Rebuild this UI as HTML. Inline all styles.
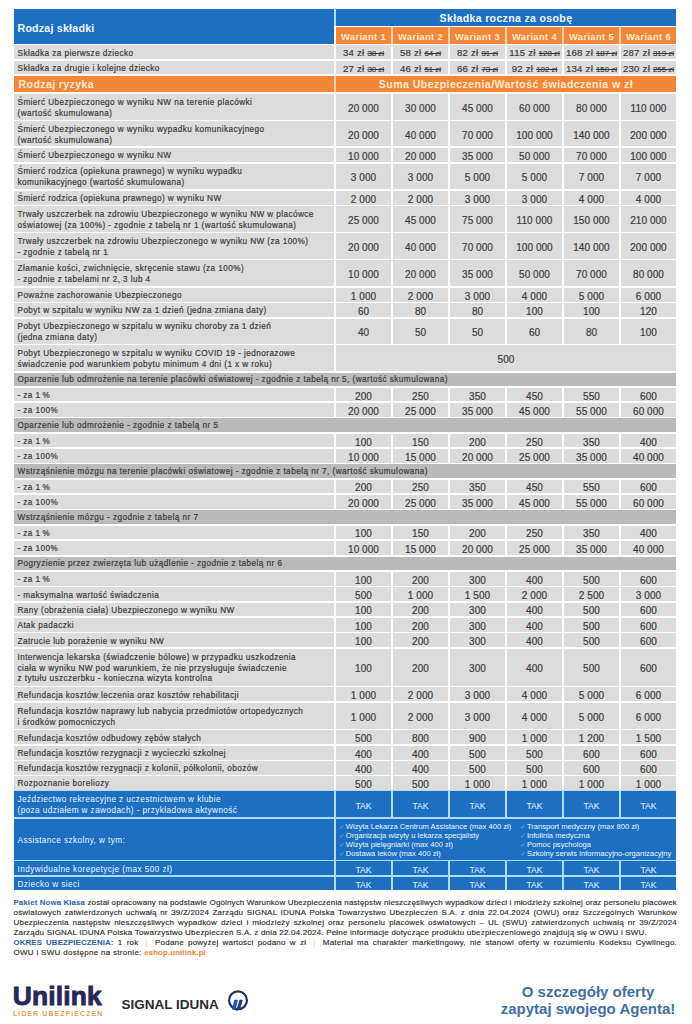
<!DOCTYPE html>
<html lang="pl"><head><meta charset="utf-8"><title>Pakiet Nowa Klasa</title>
<style>
*{margin:0;padding:0;box-sizing:border-box}
html,body{width:692px;height:1024px;overflow:hidden;background:#ffffff}
body{position:relative;font-family:"Liberation Sans", "DejaVu Sans", sans-serif;color:#3c3c3c}
.c{position:absolute;display:flex;align-items:center;overflow:visible;white-space:nowrap}
.c span{display:block;position:relative}
.lab,.val,.price{-webkit-text-stroke:0.2px #3c3c3c}
.blab,.bval{-webkit-text-stroke:0}
.lab{padding-left:3.5px;font-size:8.2px;line-height:10.7px;letter-spacing:0.42px}
.lab span{top:1.8px}
.blab{color:#eef6ff}
.val{justify-content:center;font-size:10px;letter-spacing:0.05px}
.val span{top:1.5px}
.sec span{top:0.8px}
.sec{letter-spacing:0.45px}
.bval{color:#eef6ff;font-size:8.6px;letter-spacing:0}
.hdr{color:#f4faff;font-weight:bold;font-size:10.6px;letter-spacing:0.24px;padding-left:3.5px}
.hdr span{top:1.4px}
.hdr2{color:#f4faff;font-weight:bold;font-size:10.6px;letter-spacing:0.32px;justify-content:center}
.hdr2 span{top:0.5px}
.var{color:#fdebcc;font-weight:bold;font-size:9.4px;letter-spacing:0.35px;justify-content:center}
.var span{top:0.6px}
.ohdr{color:#fdebcc;font-weight:bold;font-size:10.6px;letter-spacing:0.38px;padding-left:4.5px}
.ohdr span{top:-0.6px}
.ohdr2{color:#fdebcc;font-weight:bold;font-size:10.6px;letter-spacing:0.42px;justify-content:center}
.ohdr2 span{top:-0.6px}
.price{justify-content:center;font-size:9.6px;letter-spacing:0.25px}
.price span{top:0.6px}
.price s{font-size:7.9px;letter-spacing:0}
.assist{color:#eef6ff;font-size:7.6px;letter-spacing:0;line-height:9px;align-items:center;padding-left:4px}
.assist .col{position:absolute;top:3.3px}
.assist .col div{position:relative}
.assist i{font-style:normal;color:#7fb4e4;position:absolute;left:-6.6px;top:0;font-size:6.4px}
.foot{position:absolute;left:13.5px;width:663.5px;font-size:8px;letter-spacing:0.2px;line-height:10.05px;color:#2e2e2e;-webkit-text-stroke:0.15px #2e2e2e}
.foot div{white-space:nowrap;height:10.05px}
.foot .j{text-align:justify;text-align-last:justify;white-space:normal}
.foot b{font-size:7.8px;letter-spacing:0.15px}
.foot b.bl{color:#3566a8;-webkit-text-stroke:0.1px #3566a8}
.foot b.or{color:#f0883e;-webkit-text-stroke:0.1px #f0883e}
.sep{color:#f5c49a;padding:0 3px;-webkit-text-stroke:0}
</style></head>
<body>
<div class="c" style="left:14.00px;top:789.70px;width:662.20px;height:100.70px;background:#b2dbf7"></div><div class="c" style="left:335.80px;top:27.40px;width:340.40px;height:16.20px;background:#fbd3b0"></div><div class="c" style="left:14.00px;top:76.10px;width:662.20px;height:16.20px;background:#fbd3b0"></div><div class="c" style="left:14.00px;top:9.40px;width:662.20px;height:16.40px;background:#b2dbf7"></div>
<div class="c lab" style="left:14.00px;top:93.90px;width:320.20px;height:25.90px;background:#dcdcdc;"><span>Śmierć Ubezpieczonego w wyniku NW na terenie placówki<br>(wartość skumulowana)</span></div><div class="c val" style="left:335.80px;top:93.90px;width:55.40px;height:25.90px;background:#dcdcdc;"><span>20 000</span></div><div class="c val" style="left:392.80px;top:93.90px;width:55.40px;height:25.90px;background:#dcdcdc;"><span>30 000</span></div><div class="c val" style="left:449.80px;top:93.90px;width:55.40px;height:25.90px;background:#dcdcdc;"><span>45 000</span></div><div class="c val" style="left:506.80px;top:93.90px;width:55.40px;height:25.90px;background:#dcdcdc;"><span>60 000</span></div><div class="c val" style="left:563.80px;top:93.90px;width:55.40px;height:25.90px;background:#dcdcdc;"><span>80 000</span></div><div class="c val" style="left:620.80px;top:93.90px;width:55.40px;height:25.90px;background:#dcdcdc;"><span>110 000</span></div><div class="c lab" style="left:14.00px;top:121.40px;width:320.20px;height:25.10px;background:#dcdcdc;"><span>Śmierć Ubezpieczonego w wyniku wypadku komunikacyjnego<br>(wartość skumulowana)</span></div><div class="c val" style="left:335.80px;top:121.40px;width:55.40px;height:25.10px;background:#dcdcdc;"><span>20 000</span></div><div class="c val" style="left:392.80px;top:121.40px;width:55.40px;height:25.10px;background:#dcdcdc;"><span>40 000</span></div><div class="c val" style="left:449.80px;top:121.40px;width:55.40px;height:25.10px;background:#dcdcdc;"><span>70 000</span></div><div class="c val" style="left:506.80px;top:121.40px;width:55.40px;height:25.10px;background:#dcdcdc;"><span>100 000</span></div><div class="c val" style="left:563.80px;top:121.40px;width:55.40px;height:25.10px;background:#dcdcdc;"><span>140 000</span></div><div class="c val" style="left:620.80px;top:121.40px;width:55.40px;height:25.10px;background:#dcdcdc;"><span>200 000</span></div><div class="c lab" style="left:14.00px;top:148.10px;width:320.20px;height:13.90px;background:#dcdcdc;"><span>Śmierć Ubezpieczonego w wyniku NW</span></div><div class="c val" style="left:335.80px;top:148.10px;width:55.40px;height:13.90px;background:#dcdcdc;"><span>10 000</span></div><div class="c val" style="left:392.80px;top:148.10px;width:55.40px;height:13.90px;background:#dcdcdc;"><span>20 000</span></div><div class="c val" style="left:449.80px;top:148.10px;width:55.40px;height:13.90px;background:#dcdcdc;"><span>35 000</span></div><div class="c val" style="left:506.80px;top:148.10px;width:55.40px;height:13.90px;background:#dcdcdc;"><span>50 000</span></div><div class="c val" style="left:563.80px;top:148.10px;width:55.40px;height:13.90px;background:#dcdcdc;"><span>70 000</span></div><div class="c val" style="left:620.80px;top:148.10px;width:55.40px;height:13.90px;background:#dcdcdc;"><span>100 000</span></div><div class="c lab" style="left:14.00px;top:163.60px;width:320.20px;height:25.60px;background:#dcdcdc;"><span>Śmierć rodzica (opiekuna prawnego) w wyniku wypadku<br>komunikacyjnego (wartość skumulowana)</span></div><div class="c val" style="left:335.80px;top:163.60px;width:55.40px;height:25.60px;background:#dcdcdc;"><span>3 000</span></div><div class="c val" style="left:392.80px;top:163.60px;width:55.40px;height:25.60px;background:#dcdcdc;"><span>3 000</span></div><div class="c val" style="left:449.80px;top:163.60px;width:55.40px;height:25.60px;background:#dcdcdc;"><span>5 000</span></div><div class="c val" style="left:506.80px;top:163.60px;width:55.40px;height:25.60px;background:#dcdcdc;"><span>5 000</span></div><div class="c val" style="left:563.80px;top:163.60px;width:55.40px;height:25.60px;background:#dcdcdc;"><span>7 000</span></div><div class="c val" style="left:620.80px;top:163.60px;width:55.40px;height:25.60px;background:#dcdcdc;"><span>7 000</span></div><div class="c lab" style="left:14.00px;top:190.80px;width:320.20px;height:13.80px;background:#dcdcdc;"><span>Śmierć rodzica (opiekuna prawnego) w wyniku NW</span></div><div class="c val" style="left:335.80px;top:190.80px;width:55.40px;height:13.80px;background:#dcdcdc;"><span>2 000</span></div><div class="c val" style="left:392.80px;top:190.80px;width:55.40px;height:13.80px;background:#dcdcdc;"><span>2 000</span></div><div class="c val" style="left:449.80px;top:190.80px;width:55.40px;height:13.80px;background:#dcdcdc;"><span>3 000</span></div><div class="c val" style="left:506.80px;top:190.80px;width:55.40px;height:13.80px;background:#dcdcdc;"><span>3 000</span></div><div class="c val" style="left:563.80px;top:190.80px;width:55.40px;height:13.80px;background:#dcdcdc;"><span>4 000</span></div><div class="c val" style="left:620.80px;top:190.80px;width:55.40px;height:13.80px;background:#dcdcdc;"><span>4 000</span></div><div class="c lab" style="left:14.00px;top:206.20px;width:320.20px;height:25.50px;background:#dcdcdc;"><span>Trwały uszczerbek na zdrowiu Ubezpieczonego w wyniku NW w placówce<br>oświatowej (za 100%) - zgodnie z tabelą nr 1 (wartość skumulowana)</span></div><div class="c val" style="left:335.80px;top:206.20px;width:55.40px;height:25.50px;background:#dcdcdc;"><span>25 000</span></div><div class="c val" style="left:392.80px;top:206.20px;width:55.40px;height:25.50px;background:#dcdcdc;"><span>45 000</span></div><div class="c val" style="left:449.80px;top:206.20px;width:55.40px;height:25.50px;background:#dcdcdc;"><span>75 000</span></div><div class="c val" style="left:506.80px;top:206.20px;width:55.40px;height:25.50px;background:#dcdcdc;"><span>110 000</span></div><div class="c val" style="left:563.80px;top:206.20px;width:55.40px;height:25.50px;background:#dcdcdc;"><span>150 000</span></div><div class="c val" style="left:620.80px;top:206.20px;width:55.40px;height:25.50px;background:#dcdcdc;"><span>210 000</span></div><div class="c lab" style="left:14.00px;top:233.30px;width:320.20px;height:25.40px;background:#dcdcdc;"><span>Trwały uszczerbek na zdrowiu Ubezpieczonego w wyniku NW (za 100%)<br>- zgodnie z tabelą nr 1</span></div><div class="c val" style="left:335.80px;top:233.30px;width:55.40px;height:25.40px;background:#dcdcdc;"><span>20 000</span></div><div class="c val" style="left:392.80px;top:233.30px;width:55.40px;height:25.40px;background:#dcdcdc;"><span>40 000</span></div><div class="c val" style="left:449.80px;top:233.30px;width:55.40px;height:25.40px;background:#dcdcdc;"><span>70 000</span></div><div class="c val" style="left:506.80px;top:233.30px;width:55.40px;height:25.40px;background:#dcdcdc;"><span>100 000</span></div><div class="c val" style="left:563.80px;top:233.30px;width:55.40px;height:25.40px;background:#dcdcdc;"><span>140 000</span></div><div class="c val" style="left:620.80px;top:233.30px;width:55.40px;height:25.40px;background:#dcdcdc;"><span>200 000</span></div><div class="c lab" style="left:14.00px;top:260.30px;width:320.20px;height:25.60px;background:#dcdcdc;"><span>Złamanie kości, zwichnięcie, skręcenie stawu (za 100%)<br>- zgodnie z tabelami nr 2, 3 lub 4</span></div><div class="c val" style="left:335.80px;top:260.30px;width:55.40px;height:25.60px;background:#dcdcdc;"><span>10 000</span></div><div class="c val" style="left:392.80px;top:260.30px;width:55.40px;height:25.60px;background:#dcdcdc;"><span>20 000</span></div><div class="c val" style="left:449.80px;top:260.30px;width:55.40px;height:25.60px;background:#dcdcdc;"><span>35 000</span></div><div class="c val" style="left:506.80px;top:260.30px;width:55.40px;height:25.60px;background:#dcdcdc;"><span>50 000</span></div><div class="c val" style="left:563.80px;top:260.30px;width:55.40px;height:25.60px;background:#dcdcdc;"><span>70 000</span></div><div class="c val" style="left:620.80px;top:260.30px;width:55.40px;height:25.60px;background:#dcdcdc;"><span>80 000</span></div><div class="c lab" style="left:14.00px;top:287.50px;width:320.20px;height:14.00px;background:#dcdcdc;"><span>Poważne zachorowanie Ubezpieczonego</span></div><div class="c val" style="left:335.80px;top:287.50px;width:55.40px;height:14.00px;background:#dcdcdc;"><span>1 000</span></div><div class="c val" style="left:392.80px;top:287.50px;width:55.40px;height:14.00px;background:#dcdcdc;"><span>2 000</span></div><div class="c val" style="left:449.80px;top:287.50px;width:55.40px;height:14.00px;background:#dcdcdc;"><span>3 000</span></div><div class="c val" style="left:506.80px;top:287.50px;width:55.40px;height:14.00px;background:#dcdcdc;"><span>4 000</span></div><div class="c val" style="left:563.80px;top:287.50px;width:55.40px;height:14.00px;background:#dcdcdc;"><span>5 000</span></div><div class="c val" style="left:620.80px;top:287.50px;width:55.40px;height:14.00px;background:#dcdcdc;"><span>6 000</span></div><div class="c lab" style="left:14.00px;top:303.10px;width:320.20px;height:13.90px;background:#dcdcdc;"><span>Pobyt w szpitalu w wyniku NW za 1 dzień (jedna zmiana daty)</span></div><div class="c val" style="left:335.80px;top:303.10px;width:55.40px;height:13.90px;background:#dcdcdc;"><span>60</span></div><div class="c val" style="left:392.80px;top:303.10px;width:55.40px;height:13.90px;background:#dcdcdc;"><span>80</span></div><div class="c val" style="left:449.80px;top:303.10px;width:55.40px;height:13.90px;background:#dcdcdc;"><span>80</span></div><div class="c val" style="left:506.80px;top:303.10px;width:55.40px;height:13.90px;background:#dcdcdc;"><span>100</span></div><div class="c val" style="left:563.80px;top:303.10px;width:55.40px;height:13.90px;background:#dcdcdc;"><span>100</span></div><div class="c val" style="left:620.80px;top:303.10px;width:55.40px;height:13.90px;background:#dcdcdc;"><span>120</span></div><div class="c lab" style="left:14.00px;top:318.60px;width:320.20px;height:25.10px;background:#dcdcdc;"><span>Pobyt Ubezpieczonego w szpitalu w wyniku choroby za 1 dzień<br>(jedna zmiana daty)</span></div><div class="c val" style="left:335.80px;top:318.60px;width:55.40px;height:25.10px;background:#dcdcdc;"><span>40</span></div><div class="c val" style="left:392.80px;top:318.60px;width:55.40px;height:25.10px;background:#dcdcdc;"><span>50</span></div><div class="c val" style="left:449.80px;top:318.60px;width:55.40px;height:25.10px;background:#dcdcdc;"><span>50</span></div><div class="c val" style="left:506.80px;top:318.60px;width:55.40px;height:25.10px;background:#dcdcdc;"><span>60</span></div><div class="c val" style="left:563.80px;top:318.60px;width:55.40px;height:25.10px;background:#dcdcdc;"><span>80</span></div><div class="c val" style="left:620.80px;top:318.60px;width:55.40px;height:25.10px;background:#dcdcdc;"><span>100</span></div><div class="c lab" style="left:14.00px;top:345.30px;width:320.20px;height:25.80px;background:#dcdcdc;"><span>Pobyt Ubezpieczonego w szpitalu w wyniku COVID 19 - jednorazowe<br>świadczenie pod warunkiem pobytu minimum 4 dni (1 x w roku)</span></div><div class="c val" style="left:335.80px;top:345.30px;width:340.40px;height:25.80px;background:#dcdcdc;"><span>500</span></div><div class="c lab sec" style="left:14.00px;top:372.70px;width:662.20px;height:13.30px;background:#bababa;"><span>Oparzenie lub odmrożenie na terenie placówki oświatowej - zgodnie z tabelą nr 5, (wartość skumulowana)</span></div><div class="c lab" style="left:14.00px;top:387.60px;width:320.20px;height:13.90px;background:#dcdcdc;"><span>- za 1&thinsp;%</span></div><div class="c val" style="left:335.80px;top:387.60px;width:55.40px;height:13.90px;background:#dcdcdc;"><span>200</span></div><div class="c val" style="left:392.80px;top:387.60px;width:55.40px;height:13.90px;background:#dcdcdc;"><span>250</span></div><div class="c val" style="left:449.80px;top:387.60px;width:55.40px;height:13.90px;background:#dcdcdc;"><span>350</span></div><div class="c val" style="left:506.80px;top:387.60px;width:55.40px;height:13.90px;background:#dcdcdc;"><span>450</span></div><div class="c val" style="left:563.80px;top:387.60px;width:55.40px;height:13.90px;background:#dcdcdc;"><span>550</span></div><div class="c val" style="left:620.80px;top:387.60px;width:55.40px;height:13.90px;background:#dcdcdc;"><span>600</span></div><div class="c lab" style="left:14.00px;top:403.10px;width:320.20px;height:13.50px;background:#dcdcdc;"><span>- za 100%</span></div><div class="c val" style="left:335.80px;top:403.10px;width:55.40px;height:13.50px;background:#dcdcdc;"><span>20 000</span></div><div class="c val" style="left:392.80px;top:403.10px;width:55.40px;height:13.50px;background:#dcdcdc;"><span>25 000</span></div><div class="c val" style="left:449.80px;top:403.10px;width:55.40px;height:13.50px;background:#dcdcdc;"><span>35 000</span></div><div class="c val" style="left:506.80px;top:403.10px;width:55.40px;height:13.50px;background:#dcdcdc;"><span>45 000</span></div><div class="c val" style="left:563.80px;top:403.10px;width:55.40px;height:13.50px;background:#dcdcdc;"><span>55 000</span></div><div class="c val" style="left:620.80px;top:403.10px;width:55.40px;height:13.50px;background:#dcdcdc;"><span>60 000</span></div><div class="c lab sec" style="left:14.00px;top:418.20px;width:662.20px;height:13.90px;background:#bababa;"><span>Oparzenie lub odmrożenie - zgodnie z tabelą nr 5</span></div><div class="c lab" style="left:14.00px;top:433.70px;width:320.20px;height:13.70px;background:#dcdcdc;"><span>- za 1&thinsp;%</span></div><div class="c val" style="left:335.80px;top:433.70px;width:55.40px;height:13.70px;background:#dcdcdc;"><span>100</span></div><div class="c val" style="left:392.80px;top:433.70px;width:55.40px;height:13.70px;background:#dcdcdc;"><span>150</span></div><div class="c val" style="left:449.80px;top:433.70px;width:55.40px;height:13.70px;background:#dcdcdc;"><span>200</span></div><div class="c val" style="left:506.80px;top:433.70px;width:55.40px;height:13.70px;background:#dcdcdc;"><span>250</span></div><div class="c val" style="left:563.80px;top:433.70px;width:55.40px;height:13.70px;background:#dcdcdc;"><span>350</span></div><div class="c val" style="left:620.80px;top:433.70px;width:55.40px;height:13.70px;background:#dcdcdc;"><span>400</span></div><div class="c lab" style="left:14.00px;top:449.00px;width:320.20px;height:13.70px;background:#dcdcdc;"><span>- za 100%</span></div><div class="c val" style="left:335.80px;top:449.00px;width:55.40px;height:13.70px;background:#dcdcdc;"><span>10 000</span></div><div class="c val" style="left:392.80px;top:449.00px;width:55.40px;height:13.70px;background:#dcdcdc;"><span>15 000</span></div><div class="c val" style="left:449.80px;top:449.00px;width:55.40px;height:13.70px;background:#dcdcdc;"><span>20 000</span></div><div class="c val" style="left:506.80px;top:449.00px;width:55.40px;height:13.70px;background:#dcdcdc;"><span>25 000</span></div><div class="c val" style="left:563.80px;top:449.00px;width:55.40px;height:13.70px;background:#dcdcdc;"><span>35 000</span></div><div class="c val" style="left:620.80px;top:449.00px;width:55.40px;height:13.70px;background:#dcdcdc;"><span>40 000</span></div><div class="c lab sec" style="left:14.00px;top:464.30px;width:662.20px;height:13.70px;background:#bababa;"><span>Wstrząśnienie mózgu na terenie placówki oświatowej - zgodnie z tabelą nr 7, (wartość skumulowana)</span></div><div class="c lab" style="left:14.00px;top:479.60px;width:320.20px;height:13.80px;background:#dcdcdc;"><span>- za 1&thinsp;%</span></div><div class="c val" style="left:335.80px;top:479.60px;width:55.40px;height:13.80px;background:#dcdcdc;"><span>200</span></div><div class="c val" style="left:392.80px;top:479.60px;width:55.40px;height:13.80px;background:#dcdcdc;"><span>250</span></div><div class="c val" style="left:449.80px;top:479.60px;width:55.40px;height:13.80px;background:#dcdcdc;"><span>350</span></div><div class="c val" style="left:506.80px;top:479.60px;width:55.40px;height:13.80px;background:#dcdcdc;"><span>450</span></div><div class="c val" style="left:563.80px;top:479.60px;width:55.40px;height:13.80px;background:#dcdcdc;"><span>550</span></div><div class="c val" style="left:620.80px;top:479.60px;width:55.40px;height:13.80px;background:#dcdcdc;"><span>600</span></div><div class="c lab" style="left:14.00px;top:495.00px;width:320.20px;height:13.80px;background:#dcdcdc;"><span>- za 100%</span></div><div class="c val" style="left:335.80px;top:495.00px;width:55.40px;height:13.80px;background:#dcdcdc;"><span>20 000</span></div><div class="c val" style="left:392.80px;top:495.00px;width:55.40px;height:13.80px;background:#dcdcdc;"><span>25 000</span></div><div class="c val" style="left:449.80px;top:495.00px;width:55.40px;height:13.80px;background:#dcdcdc;"><span>35 000</span></div><div class="c val" style="left:506.80px;top:495.00px;width:55.40px;height:13.80px;background:#dcdcdc;"><span>45 000</span></div><div class="c val" style="left:563.80px;top:495.00px;width:55.40px;height:13.80px;background:#dcdcdc;"><span>55 000</span></div><div class="c val" style="left:620.80px;top:495.00px;width:55.40px;height:13.80px;background:#dcdcdc;"><span>60 000</span></div><div class="c lab sec" style="left:14.00px;top:510.40px;width:662.20px;height:13.60px;background:#bababa;"><span>Wstrząśnienie mózgu - zgodnie z tabelą nr 7</span></div><div class="c lab" style="left:14.00px;top:525.60px;width:320.20px;height:13.80px;background:#dcdcdc;"><span>- za 1&thinsp;%</span></div><div class="c val" style="left:335.80px;top:525.60px;width:55.40px;height:13.80px;background:#dcdcdc;"><span>100</span></div><div class="c val" style="left:392.80px;top:525.60px;width:55.40px;height:13.80px;background:#dcdcdc;"><span>150</span></div><div class="c val" style="left:449.80px;top:525.60px;width:55.40px;height:13.80px;background:#dcdcdc;"><span>200</span></div><div class="c val" style="left:506.80px;top:525.60px;width:55.40px;height:13.80px;background:#dcdcdc;"><span>250</span></div><div class="c val" style="left:563.80px;top:525.60px;width:55.40px;height:13.80px;background:#dcdcdc;"><span>350</span></div><div class="c val" style="left:620.80px;top:525.60px;width:55.40px;height:13.80px;background:#dcdcdc;"><span>400</span></div><div class="c lab" style="left:14.00px;top:541.00px;width:320.20px;height:13.90px;background:#dcdcdc;"><span>- za 100%</span></div><div class="c val" style="left:335.80px;top:541.00px;width:55.40px;height:13.90px;background:#dcdcdc;"><span>10 000</span></div><div class="c val" style="left:392.80px;top:541.00px;width:55.40px;height:13.90px;background:#dcdcdc;"><span>15 000</span></div><div class="c val" style="left:449.80px;top:541.00px;width:55.40px;height:13.90px;background:#dcdcdc;"><span>20 000</span></div><div class="c val" style="left:506.80px;top:541.00px;width:55.40px;height:13.90px;background:#dcdcdc;"><span>25 000</span></div><div class="c val" style="left:563.80px;top:541.00px;width:55.40px;height:13.90px;background:#dcdcdc;"><span>35 000</span></div><div class="c val" style="left:620.80px;top:541.00px;width:55.40px;height:13.90px;background:#dcdcdc;"><span>40 000</span></div><div class="c lab sec" style="left:14.00px;top:556.50px;width:662.20px;height:13.70px;background:#bababa;"><span>Pogryzienie przez zwierzęta lub użądlenie - zgodnie z tabelą nr 6</span></div><div class="c lab" style="left:14.00px;top:571.80px;width:320.20px;height:13.80px;background:#dcdcdc;"><span>- za 1&thinsp;%</span></div><div class="c val" style="left:335.80px;top:571.80px;width:55.40px;height:13.80px;background:#dcdcdc;"><span>100</span></div><div class="c val" style="left:392.80px;top:571.80px;width:55.40px;height:13.80px;background:#dcdcdc;"><span>200</span></div><div class="c val" style="left:449.80px;top:571.80px;width:55.40px;height:13.80px;background:#dcdcdc;"><span>300</span></div><div class="c val" style="left:506.80px;top:571.80px;width:55.40px;height:13.80px;background:#dcdcdc;"><span>400</span></div><div class="c val" style="left:563.80px;top:571.80px;width:55.40px;height:13.80px;background:#dcdcdc;"><span>500</span></div><div class="c val" style="left:620.80px;top:571.80px;width:55.40px;height:13.80px;background:#dcdcdc;"><span>600</span></div><div class="c lab" style="left:14.00px;top:587.20px;width:320.20px;height:13.80px;background:#dcdcdc;"><span>- maksymalna wartość świadczenia</span></div><div class="c val" style="left:335.80px;top:587.20px;width:55.40px;height:13.80px;background:#dcdcdc;"><span>500</span></div><div class="c val" style="left:392.80px;top:587.20px;width:55.40px;height:13.80px;background:#dcdcdc;"><span>1 000</span></div><div class="c val" style="left:449.80px;top:587.20px;width:55.40px;height:13.80px;background:#dcdcdc;"><span>1 500</span></div><div class="c val" style="left:506.80px;top:587.20px;width:55.40px;height:13.80px;background:#dcdcdc;"><span>2 000</span></div><div class="c val" style="left:563.80px;top:587.20px;width:55.40px;height:13.80px;background:#dcdcdc;"><span>2 500</span></div><div class="c val" style="left:620.80px;top:587.20px;width:55.40px;height:13.80px;background:#dcdcdc;"><span>3 000</span></div><div class="c lab" style="left:14.00px;top:602.60px;width:320.20px;height:13.80px;background:#dcdcdc;"><span>Rany (obrażenia ciała) Ubezpieczonego w wyniku NW</span></div><div class="c val" style="left:335.80px;top:602.60px;width:55.40px;height:13.80px;background:#dcdcdc;"><span>100</span></div><div class="c val" style="left:392.80px;top:602.60px;width:55.40px;height:13.80px;background:#dcdcdc;"><span>200</span></div><div class="c val" style="left:449.80px;top:602.60px;width:55.40px;height:13.80px;background:#dcdcdc;"><span>300</span></div><div class="c val" style="left:506.80px;top:602.60px;width:55.40px;height:13.80px;background:#dcdcdc;"><span>400</span></div><div class="c val" style="left:563.80px;top:602.60px;width:55.40px;height:13.80px;background:#dcdcdc;"><span>500</span></div><div class="c val" style="left:620.80px;top:602.60px;width:55.40px;height:13.80px;background:#dcdcdc;"><span>600</span></div><div class="c lab" style="left:14.00px;top:618.00px;width:320.20px;height:13.80px;background:#dcdcdc;"><span>Atak padaczki</span></div><div class="c val" style="left:335.80px;top:618.00px;width:55.40px;height:13.80px;background:#dcdcdc;"><span>100</span></div><div class="c val" style="left:392.80px;top:618.00px;width:55.40px;height:13.80px;background:#dcdcdc;"><span>200</span></div><div class="c val" style="left:449.80px;top:618.00px;width:55.40px;height:13.80px;background:#dcdcdc;"><span>300</span></div><div class="c val" style="left:506.80px;top:618.00px;width:55.40px;height:13.80px;background:#dcdcdc;"><span>400</span></div><div class="c val" style="left:563.80px;top:618.00px;width:55.40px;height:13.80px;background:#dcdcdc;"><span>500</span></div><div class="c val" style="left:620.80px;top:618.00px;width:55.40px;height:13.80px;background:#dcdcdc;"><span>600</span></div><div class="c lab" style="left:14.00px;top:633.40px;width:320.20px;height:13.60px;background:#dcdcdc;"><span>Zatrucie lub porażenie w wyniku NW</span></div><div class="c val" style="left:335.80px;top:633.40px;width:55.40px;height:13.60px;background:#dcdcdc;"><span>100</span></div><div class="c val" style="left:392.80px;top:633.40px;width:55.40px;height:13.60px;background:#dcdcdc;"><span>200</span></div><div class="c val" style="left:449.80px;top:633.40px;width:55.40px;height:13.60px;background:#dcdcdc;"><span>300</span></div><div class="c val" style="left:506.80px;top:633.40px;width:55.40px;height:13.60px;background:#dcdcdc;"><span>400</span></div><div class="c val" style="left:563.80px;top:633.40px;width:55.40px;height:13.60px;background:#dcdcdc;"><span>500</span></div><div class="c val" style="left:620.80px;top:633.40px;width:55.40px;height:13.60px;background:#dcdcdc;"><span>600</span></div><div class="c lab" style="left:14.00px;top:648.60px;width:320.20px;height:37.10px;background:#dcdcdc;"><span>Interwencja lekarska (świadczenie bólowe) w przypadku uszkodzenia<br>ciała w wyniku NW pod warunkiem, że nie przysługuje świadczenie<br>z tytułu uszczerbku - konieczna wizyta kontrolna</span></div><div class="c val" style="left:335.80px;top:648.60px;width:55.40px;height:37.10px;background:#dcdcdc;"><span>100</span></div><div class="c val" style="left:392.80px;top:648.60px;width:55.40px;height:37.10px;background:#dcdcdc;"><span>200</span></div><div class="c val" style="left:449.80px;top:648.60px;width:55.40px;height:37.10px;background:#dcdcdc;"><span>300</span></div><div class="c val" style="left:506.80px;top:648.60px;width:55.40px;height:37.10px;background:#dcdcdc;"><span>400</span></div><div class="c val" style="left:563.80px;top:648.60px;width:55.40px;height:37.10px;background:#dcdcdc;"><span>500</span></div><div class="c val" style="left:620.80px;top:648.60px;width:55.40px;height:37.10px;background:#dcdcdc;"><span>600</span></div><div class="c lab" style="left:14.00px;top:687.30px;width:320.20px;height:13.90px;background:#dcdcdc;"><span>Refundacja kosztów leczenia oraz kosztów rehabilitacji</span></div><div class="c val" style="left:335.80px;top:687.30px;width:55.40px;height:13.90px;background:#dcdcdc;"><span>1 000</span></div><div class="c val" style="left:392.80px;top:687.30px;width:55.40px;height:13.90px;background:#dcdcdc;"><span>2 000</span></div><div class="c val" style="left:449.80px;top:687.30px;width:55.40px;height:13.90px;background:#dcdcdc;"><span>3 000</span></div><div class="c val" style="left:506.80px;top:687.30px;width:55.40px;height:13.90px;background:#dcdcdc;"><span>4 000</span></div><div class="c val" style="left:563.80px;top:687.30px;width:55.40px;height:13.90px;background:#dcdcdc;"><span>5 000</span></div><div class="c val" style="left:620.80px;top:687.30px;width:55.40px;height:13.90px;background:#dcdcdc;"><span>6 000</span></div><div class="c lab" style="left:14.00px;top:702.80px;width:320.20px;height:26.00px;background:#dcdcdc;"><span>Refundacja kosztów naprawy lub nabycia przedmiotów ortopedycznych<br>i środków pomocniczych</span></div><div class="c val" style="left:335.80px;top:702.80px;width:55.40px;height:26.00px;background:#dcdcdc;"><span>1 000</span></div><div class="c val" style="left:392.80px;top:702.80px;width:55.40px;height:26.00px;background:#dcdcdc;"><span>2 000</span></div><div class="c val" style="left:449.80px;top:702.80px;width:55.40px;height:26.00px;background:#dcdcdc;"><span>3 000</span></div><div class="c val" style="left:506.80px;top:702.80px;width:55.40px;height:26.00px;background:#dcdcdc;"><span>4 000</span></div><div class="c val" style="left:563.80px;top:702.80px;width:55.40px;height:26.00px;background:#dcdcdc;"><span>5 000</span></div><div class="c val" style="left:620.80px;top:702.80px;width:55.40px;height:26.00px;background:#dcdcdc;"><span>6 000</span></div><div class="c lab" style="left:14.00px;top:730.40px;width:320.20px;height:14.10px;background:#dcdcdc;"><span>Refundacja kosztów odbudowy zębów stałych</span></div><div class="c val" style="left:335.80px;top:730.40px;width:55.40px;height:14.10px;background:#dcdcdc;"><span>500</span></div><div class="c val" style="left:392.80px;top:730.40px;width:55.40px;height:14.10px;background:#dcdcdc;"><span>800</span></div><div class="c val" style="left:449.80px;top:730.40px;width:55.40px;height:14.10px;background:#dcdcdc;"><span>900</span></div><div class="c val" style="left:506.80px;top:730.40px;width:55.40px;height:14.10px;background:#dcdcdc;"><span>1 000</span></div><div class="c val" style="left:563.80px;top:730.40px;width:55.40px;height:14.10px;background:#dcdcdc;"><span>1 200</span></div><div class="c val" style="left:620.80px;top:730.40px;width:55.40px;height:14.10px;background:#dcdcdc;"><span>1 500</span></div><div class="c lab" style="left:14.00px;top:746.10px;width:320.20px;height:13.60px;background:#dcdcdc;"><span>Refundacja kosztów rezygnacji z wycieczki szkolnej</span></div><div class="c val" style="left:335.80px;top:746.10px;width:55.40px;height:13.60px;background:#dcdcdc;"><span>400</span></div><div class="c val" style="left:392.80px;top:746.10px;width:55.40px;height:13.60px;background:#dcdcdc;"><span>400</span></div><div class="c val" style="left:449.80px;top:746.10px;width:55.40px;height:13.60px;background:#dcdcdc;"><span>500</span></div><div class="c val" style="left:506.80px;top:746.10px;width:55.40px;height:13.60px;background:#dcdcdc;"><span>500</span></div><div class="c val" style="left:563.80px;top:746.10px;width:55.40px;height:13.60px;background:#dcdcdc;"><span>600</span></div><div class="c val" style="left:620.80px;top:746.10px;width:55.40px;height:13.60px;background:#dcdcdc;"><span>600</span></div><div class="c lab" style="left:14.00px;top:761.30px;width:320.20px;height:13.50px;background:#dcdcdc;"><span>Refundacja kosztów rezygnacji z kolonii, półkolonii, obozów</span></div><div class="c val" style="left:335.80px;top:761.30px;width:55.40px;height:13.50px;background:#dcdcdc;"><span>400</span></div><div class="c val" style="left:392.80px;top:761.30px;width:55.40px;height:13.50px;background:#dcdcdc;"><span>400</span></div><div class="c val" style="left:449.80px;top:761.30px;width:55.40px;height:13.50px;background:#dcdcdc;"><span>500</span></div><div class="c val" style="left:506.80px;top:761.30px;width:55.40px;height:13.50px;background:#dcdcdc;"><span>500</span></div><div class="c val" style="left:563.80px;top:761.30px;width:55.40px;height:13.50px;background:#dcdcdc;"><span>600</span></div><div class="c val" style="left:620.80px;top:761.30px;width:55.40px;height:13.50px;background:#dcdcdc;"><span>600</span></div><div class="c lab" style="left:14.00px;top:776.40px;width:320.20px;height:13.30px;background:#dcdcdc;"><span>Rozpoznanie boreliozy</span></div><div class="c val" style="left:335.80px;top:776.40px;width:55.40px;height:13.30px;background:#dcdcdc;"><span>500</span></div><div class="c val" style="left:392.80px;top:776.40px;width:55.40px;height:13.30px;background:#dcdcdc;"><span>500</span></div><div class="c val" style="left:449.80px;top:776.40px;width:55.40px;height:13.30px;background:#dcdcdc;"><span>1 000</span></div><div class="c val" style="left:506.80px;top:776.40px;width:55.40px;height:13.30px;background:#dcdcdc;"><span>1 000</span></div><div class="c val" style="left:563.80px;top:776.40px;width:55.40px;height:13.30px;background:#dcdcdc;"><span>1 000</span></div><div class="c val" style="left:620.80px;top:776.40px;width:55.40px;height:13.30px;background:#dcdcdc;"><span>1 000</span></div><div class="c lab blab" style="left:14.00px;top:791.30px;width:320.20px;height:25.90px;background:#1c6fc1;"><span>Jeździectwo rekreacyjne z uczestnictwem w klubie<br>(poza udziałem w zawodach) - przykładowa aktywność</span></div><div class="c val bval" style="left:335.80px;top:791.30px;width:55.40px;height:25.90px;background:#1c6fc1;"><span>TAK</span></div><div class="c val bval" style="left:392.80px;top:791.30px;width:55.40px;height:25.90px;background:#1c6fc1;"><span>TAK</span></div><div class="c val bval" style="left:449.80px;top:791.30px;width:55.40px;height:25.90px;background:#1c6fc1;"><span>TAK</span></div><div class="c val bval" style="left:506.80px;top:791.30px;width:55.40px;height:25.90px;background:#1c6fc1;"><span>TAK</span></div><div class="c val bval" style="left:563.80px;top:791.30px;width:55.40px;height:25.90px;background:#1c6fc1;"><span>TAK</span></div><div class="c val bval" style="left:620.80px;top:791.30px;width:55.40px;height:25.90px;background:#1c6fc1;"><span>TAK</span></div><div class="c lab blab" style="left:14.00px;top:818.80px;width:320.20px;height:41.00px;background:#1c6fc1;"><span>Assistance szkolny, w tym:</span></div><div class="c assist" style="left:335.80px;top:818.80px;width:340.40px;height:41.00px;background:#1c6fc1;"><div class="col" style="left:10px"><div><i>✓</i>Wizyta Lekarza Centrum Assistance (max 400 zł)</div><div><i>✓</i>Organizacja wizyty u lekarza specjalisty</div><div><i>✓</i>Wizyta pielęgniarki (max 400 zł)</div><div><i>✓</i>Dostawa leków (max 400 zł)</div></div><div class="col" style="left:191.1px"><div><i>✓</i>Transport medyczny (max 800 zł)</div><div><i>✓</i>Infolinia medyczna</div><div><i>✓</i>Pomoc psychologa</div><div><i>✓</i>Szkolny serwis informacyjno-organizacyjny</div></div></div><div class="c lab blab" style="left:14.00px;top:861.40px;width:320.20px;height:13.80px;background:#1c6fc1;"><span>Indywidualne korepetycje (max 500 zł)</span></div><div class="c val bval" style="left:335.80px;top:861.40px;width:55.40px;height:13.80px;background:#1c6fc1;"><span>TAK</span></div><div class="c val bval" style="left:392.80px;top:861.40px;width:55.40px;height:13.80px;background:#1c6fc1;"><span>TAK</span></div><div class="c val bval" style="left:449.80px;top:861.40px;width:55.40px;height:13.80px;background:#1c6fc1;"><span>TAK</span></div><div class="c val bval" style="left:506.80px;top:861.40px;width:55.40px;height:13.80px;background:#1c6fc1;"><span>TAK</span></div><div class="c val bval" style="left:563.80px;top:861.40px;width:55.40px;height:13.80px;background:#1c6fc1;"><span>TAK</span></div><div class="c val bval" style="left:620.80px;top:861.40px;width:55.40px;height:13.80px;background:#1c6fc1;"><span>TAK</span></div><div class="c lab blab" style="left:14.00px;top:876.80px;width:320.20px;height:13.60px;background:#1c6fc1;"><span>Dziecko w sieci</span></div><div class="c val bval" style="left:335.80px;top:876.80px;width:55.40px;height:13.60px;background:#1c6fc1;"><span>TAK</span></div><div class="c val bval" style="left:392.80px;top:876.80px;width:55.40px;height:13.60px;background:#1c6fc1;"><span>TAK</span></div><div class="c val bval" style="left:449.80px;top:876.80px;width:55.40px;height:13.60px;background:#1c6fc1;"><span>TAK</span></div><div class="c val bval" style="left:506.80px;top:876.80px;width:55.40px;height:13.60px;background:#1c6fc1;"><span>TAK</span></div><div class="c val bval" style="left:563.80px;top:876.80px;width:55.40px;height:13.60px;background:#1c6fc1;"><span>TAK</span></div><div class="c val bval" style="left:620.80px;top:876.80px;width:55.40px;height:13.60px;background:#1c6fc1;"><span>TAK</span></div><div class="c hdr" style="left:14.00px;top:9.40px;width:320.20px;height:34.20px;background:#1c6fc1;"><span>Rodzaj składki</span></div><div class="c hdr2" style="left:335.80px;top:9.40px;width:340.40px;height:16.40px;background:#1c6fc1;"><span>Składka roczna za osobę</span></div><div class="c var" style="left:335.80px;top:27.40px;width:55.40px;height:16.20px;background:#f2873a;"><span>Wariant 1</span></div><div class="c var" style="left:392.80px;top:27.40px;width:55.40px;height:16.20px;background:#f2873a;"><span>Wariant 2</span></div><div class="c var" style="left:449.80px;top:27.40px;width:55.40px;height:16.20px;background:#f2873a;"><span>Wariant 3</span></div><div class="c var" style="left:506.80px;top:27.40px;width:55.40px;height:16.20px;background:#f2873a;"><span>Wariant 4</span></div><div class="c var" style="left:563.80px;top:27.40px;width:55.40px;height:16.20px;background:#f2873a;"><span>Wariant 5</span></div><div class="c var" style="left:620.80px;top:27.40px;width:55.40px;height:16.20px;background:#f2873a;"><span>Wariant 6</span></div><div class="c lab" style="left:14.00px;top:45.20px;width:320.20px;height:14.00px;background:#dcdcdc;"><span>Składka za pierwsze dziecko</span></div><div class="c lab" style="left:14.00px;top:60.80px;width:320.20px;height:13.70px;background:#dcdcdc;"><span>Składka za drugie i kolejne dziecko</span></div><div class="c price" style="left:335.80px;top:45.20px;width:55.40px;height:14.00px;background:#dcdcdc;"><span>34 zł <s>38 zł</s></span></div><div class="c price" style="left:392.80px;top:45.20px;width:55.40px;height:14.00px;background:#dcdcdc;"><span>58 zł <s>64 zł</s></span></div><div class="c price" style="left:449.80px;top:45.20px;width:55.40px;height:14.00px;background:#dcdcdc;"><span>82 zł <s>91 zł</s></span></div><div class="c price" style="left:506.80px;top:45.20px;width:55.40px;height:14.00px;background:#dcdcdc;"><span>115 zł <s>128 zł</s></span></div><div class="c price" style="left:563.80px;top:45.20px;width:55.40px;height:14.00px;background:#dcdcdc;"><span>168 zł <s>187 zł</s></span></div><div class="c price" style="left:620.80px;top:45.20px;width:55.40px;height:14.00px;background:#dcdcdc;"><span>287 zł <s>319 zł</s></span></div><div class="c price" style="left:335.80px;top:60.80px;width:55.40px;height:13.70px;background:#dcdcdc;"><span>27 zł <s>30 zł</s></span></div><div class="c price" style="left:392.80px;top:60.80px;width:55.40px;height:13.70px;background:#dcdcdc;"><span>46 zł <s>51 zł</s></span></div><div class="c price" style="left:449.80px;top:60.80px;width:55.40px;height:13.70px;background:#dcdcdc;"><span>66 zł <s>73 zł</s></span></div><div class="c price" style="left:506.80px;top:60.80px;width:55.40px;height:13.70px;background:#dcdcdc;"><span>92 zł <s>102 zł</s></span></div><div class="c price" style="left:563.80px;top:60.80px;width:55.40px;height:13.70px;background:#dcdcdc;"><span>134 zł <s>150 zł</s></span></div><div class="c price" style="left:620.80px;top:60.80px;width:55.40px;height:13.70px;background:#dcdcdc;"><span>230 zł <s>255 zł</s></span></div><div class="c ohdr" style="left:14.00px;top:76.10px;width:320.20px;height:16.20px;background:#f2873a;"><span>Rodzaj ryzyka</span></div><div class="c ohdr2" style="left:335.80px;top:76.10px;width:340.40px;height:16.20px;background:#f2873a;"><span>Suma Ubezpieczenia/Wartość świadczenia w zł</span></div>

<div class="foot" style="top:897.7px">
<div class="j" style="letter-spacing:0.13px"><b class="bl">Pakiet Nowa Klasa</b> został opracowany na podstawie Ogólnych Warunków Ubezpieczenia następstw nieszczęśliwych wypadków dzieci i młodzieży szkolnej oraz personelu placówek</div>
<div class="j">oświatowych zatwierdzonych uchwałą nr 39/Z/2024 Zarządu SIGNAL IDUNA Polska Towarzystwo Ubezpieczeń S.A. z dnia 22.04.2024 (OWU) oraz Szczególnych Warunków</div>
<div class="j">Ubezpieczenia następstw nieszczęśliwych wypadków dzieci i młodzieży szkolnej oraz personelu placówek oświatowych – UL (SWU) zatwierdzonych uchwałą nr 39/Z/2024</div>
<div>Zarządu SIGNAL IDUNA Polska Towarzystwo Ubezpieczeń S.A. z dnia 22.04.2024. Pełne informacje dotyczące produktu ubezpieczeniowego znajdują się w OWU i SWU.</div>
<div class="j"><b class="bl">OKRES UBEZPIECZENIA:</b> 1 rok <span class="sep">|</span> Podane powyżej wartości podano w zł <span class="sep">|</span> Materiał ma charakter marketingowy, nie stanowi oferty w rozumieniu Kodeksu Cywilnego.</div>
<div style="letter-spacing:0.3px">OWU i SWU dostępne na stronie: <b class="or">eshop.unilink.pl</b></div>
</div>


<div style="position:absolute;left:12.8px;top:980.8px;font-size:26.4px;line-height:30px;font-weight:bold;color:#27285a;-webkit-text-stroke:0.9px #27285a;letter-spacing:0.15px">Unilink</div>
<div style="position:absolute;left:13px;top:1010.3px;font-size:6.8px;line-height:8px;font-weight:bold;color:#e49d55;letter-spacing:1.18px">LIDER UBEZPIECZEŃ</div>
<div style="position:absolute;left:121.5px;top:996.6px;font-size:13.5px;line-height:16px;font-weight:bold;color:#2a2a2a">SIGNAL IDUNA</div>
<svg style="position:absolute;left:226px;top:988px" width="24" height="24" viewBox="0 0 24 24">
<circle cx="12" cy="12.3" r="8.95" fill="none" stroke="#1c3366" stroke-width="2.2"/>
<path d="M8.3 11.8 L12 11.8 L9.4 22.2 L6 21.4 Z" fill="#2350b3"/>
<path d="M13.6 11.8 L16.8 11.8 L14 21.6 L9.9 22.9 Z" fill="#1b3a78"/>
</svg>
<div style="position:absolute;left:488px;top:983px;width:200px;text-align:center;font-size:15px;line-height:17.3px;font-weight:bold;color:#41709f">O szczegóły oferty<br>zapytaj swojego Agenta!</div>

</body></html>
